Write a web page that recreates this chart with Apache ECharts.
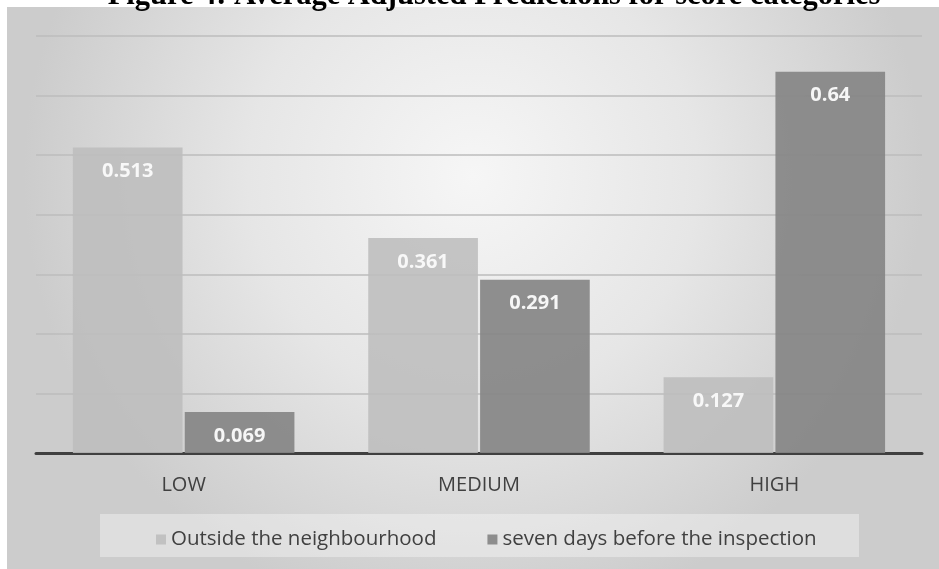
<!DOCTYPE html>
<html>
<head>
<meta charset="utf-8">
<script src="https://cdn.jsdelivr.net/npm/echarts@6/dist/echarts.min.js"></script>
<style>
html,body{margin:0;padding:0;background:#fff;}
#chart{width:939px;height:569px;}
</style>
</head>
<body>
<div id="chart"></div>
<script>
var titleText = 'Figure 4: Average Adjusted Predictions for score categories';
var categories = ['LOW', 'MEDIUM', 'HIGH'];
var seriesNames = ['Outside the neighbourhood', 'seven days before the inspection'];
var outsideValues = [0.513, 0.361, 0.127];
var sevenDaysValues = [0.069, 0.291, 0.64];
var yTicks = [0, 0.1, 0.2, 0.3, 0.4, 0.5, 0.6, 0.7];

var chart = echarts.init(document.getElementById('chart'));
var font = '"Open Sans", sans-serif';
var labelCfg = {
  show: true, position: 'insideTop', distance: 14,
  color: '#ffffff', fontWeight: 'bold', fontSize: 20, fontFamily: font,
  formatter: function (p) { return String(p.value); }
};
chart.setOption({
  animation: false,
  graphic: [
    {
      type: 'rect', z: -10, silent: true,
      shape: { x: 7, y: 7, width: 932, height: 562 },
      style: {
        fill: {
          type: 'radial', x: 0.5, y: 0.3, r: 0.8,
          colorStops: [
            { offset: 0, color: '#f6f6f6' },
            { offset: 0.5, color: '#e6e6e6' },
            { offset: 1, color: '#cccccc' }
          ]
        }
      }
    },
    {
      type: 'rect', z: -5, silent: true,
      shape: { x: 100, y: 514, width: 759, height: 43 },
      style: { fill: 'rgba(255,255,255,0.35)' }
    },
    {
      type: 'text', z: 10, silent: true,
      x: 494, y: 12,
      style: {
        text: titleText, align: 'center', verticalAlign: 'bottom',
        font: 'bold 30.5px "Liberation Serif", "Times New Roman", serif',
        fill: '#000000'
      }
    }
  ],
  grid: { left: 36, right: 17, top: 36, bottom: 116, containLabel: false },
  legend: {
    data: seriesNames,
    left: 151, top: 524,
    icon: 'rect', itemWidth: 10, itemHeight: 10, itemGap: 51,
    textStyle: { fontSize: 20.5, color: '#404040', fontFamily: font }
  },
  xAxis: {
    type: 'category', data: categories,
    axisLine: { lineStyle: { color: '#404040', width: 3 } },
    axisTick: { show: false },
    axisLabel: { margin: 22, fontSize: 20, color: '#404040', fontFamily: font }
  },
  yAxis: {
    type: 'value', min: yTicks[0], max: yTicks[yTicks.length - 1], interval: 0.1,
    axisLine: { show: false }, axisTick: { show: false }, axisLabel: { show: false },
    splitLine: { lineStyle: { color: '#bcbcbc', width: 1.5 } }
  },
  series: [
    {
      name: seriesNames[0], type: 'bar', data: outsideValues,
      barGap: '2%', barCategoryGap: '25%',
      itemStyle: { color: '#bdbdbd', opacity: 0.88 },
      label: labelCfg
    },
    {
      name: seriesNames[1], type: 'bar', data: sevenDaysValues,
      barGap: '2%', barCategoryGap: '25%',
      itemStyle: { color: '#858585', opacity: 0.92 },
      label: labelCfg
    }
  ]
});
</script>
</body>
</html>
